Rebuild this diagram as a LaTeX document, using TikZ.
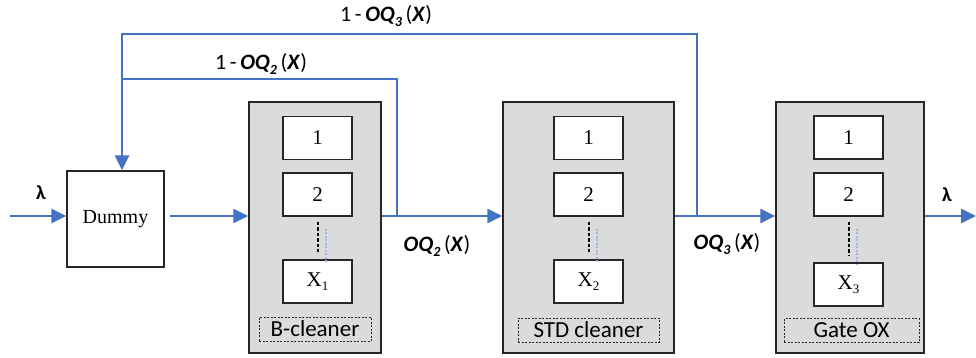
\documentclass[tikz,border=0pt]{standalone}
\usepackage{fontspec}
\setmainfont{Liberation Serif}
\newfontfamily\calfont{Carlito}
\usetikzlibrary{arrows.meta}
\definecolor{flowblue}{HTML}{4472C4}
\definecolor{panelgray}{HTML}{DBDBDB}
\definecolor{dotblue}{HTML}{9DB8E4}

% bold italic queue label OQ_k(X)
\newcommand{\oqlabel}[1]{\textbf{\textit{OQ}}\raisebox{-0.4ex}{\fontsize{14}{14}\selectfont\textbf{\textit{#1}}}\,(\textbf{\textit{X}})}
% serif X with a lowered index
\newcommand{\xslot}[1]{X\raisebox{-0.35ex}{\fontsize{13}{13}\selectfont #1}}

\begin{document}
\begin{tikzpicture}[x=1pt,y=-1pt,
  flow/.style={draw=flowblue, line width=2.6pt},
  arr/.style={flow, -{Triangle[length=15pt,width=14pt]}},
  panel/.style={draw=black!85, line width=1.3pt, fill=panelgray,
    minimum height=251pt, inner sep=0pt},
  slot/.style={draw=black!85, fill=white, line width=1.3pt,
    minimum width=69pt, minimum height=43pt, inner sep=0pt,
    font=\fontsize{21}{24}\selectfont},
  tag/.style={draw=black!85, dash pattern=on 2pt off 1.5pt, line width=1pt,
    minimum height=24pt, inner sep=0pt, font=\calfont\fontsize{23}{26}\selectfont},
  gapdash/.style={draw=black, line width=2pt, dash pattern=on 3.5pt off 2pt},
  gapdot/.style={draw=dotblue, line width=2pt, dash pattern=on 2pt off 1.5pt},
  qlabel/.style={font=\calfont\fontsize{22}{26}\selectfont, inner sep=0pt},
  lam/.style={font=\calfont\bfseries\fontsize{20}{22}\selectfont, inner sep=0pt}
]
\useasboundingbox (0,0) rectangle (976,358);

% source node
\node[draw=black!85, line width=1.3pt, minimum width=97pt, minimum height=96pt,
  inner sep=0pt, font=\fontsize{20}{24}\selectfont] (dummy) at (115.5,219) {Dummy};

% three processing stages
\node[panel, minimum width=132pt] (bcl) at (315,227.5) {};
\node[panel, minimum width=171pt] (std) at (588.5,227.5) {};
\node[panel, minimum width=148pt] (gox) at (850,227.5) {};

% slots inside B-cleaner
\node[slot] (b1) at (317.5,138) {1};
\node[slot] (b2) at (317.5,194.5) {2};
\node[slot] (bx) at (317.5,281.5) {\xslot{1}};
\node[tag, minimum width=112pt] (btag) at (315,329) {B-cleaner};

% slots inside STD cleaner
\node[slot] (s1) at (588.5,138) {1};
\node[slot] (s2) at (588.5,194.5) {2};
\node[slot] (sx) at (588.5,281.5) {\xslot{2}};
\node[tag, minimum width=141pt] (stag) at (588.5,330) {STD cleaner};

% slots inside Gate OX
\node[slot] (g1) at (848.5,137.5) {1};
\node[slot] (g2) at (848.5,194.5) {2};
\node[slot] (gx) at (848.5,284.5) {\xslot{3}};
\node[tag, minimum width=135pt] (gtag) at (851.5,330.5) {Gate OX};

% elided slots between 2 and X
\foreach \a/\b in {b2/bx, s2/sx, g2/gx}{
  \draw[gapdash] ([yshift=-5pt]\a.south) -- ([yshift=7pt]\b.north);
  \draw[gapdot] ([xshift=8.5pt,yshift=-12pt]\a.south) -- ([xshift=8.5pt,yshift=-3pt]\b.north);
}

% main flow
\coordinate (inL) at (10,216);
\coordinate (outR) at (976,216);
\coordinate (j2) at (397,216);
\coordinate (j3) at (697,216);
\coordinate (c2) at (122,79);
\coordinate (c3) at (122,34);

\draw[arr] (inL) -- (inL -| dummy.west);
\draw[arr] ([xshift=5pt]dummy.east |- inL) -- (inL -| bcl.west);
\draw[arr] (bcl.east |- j2) -- (std.west |- j2);
\draw[arr] (std.east |- j3) -- (gox.west |- j3);
\draw[arr] (gox.east |- j3) -- (outR);

% feedback loops
\draw[arr] (j3) |- (c3) -- (c3 |- dummy.north);
\draw[flow] (j2) |- (c2);

% labels
\node[lam] (lin) at (41,193) {λ};
\node[lam] (lout) at (947,195) {λ};
\node[qlabel] (q2) at (437,246) {\oqlabel{2}};
\node[qlabel] (q3) at (727,244) {\oqlabel{3}};
\node[qlabel] (f2) at (261,64) {1\,-\,\oqlabel{2}};
\node[qlabel] (f3) at (386,16) {1\,-\,\oqlabel{3}};
\end{tikzpicture}
\end{document}
